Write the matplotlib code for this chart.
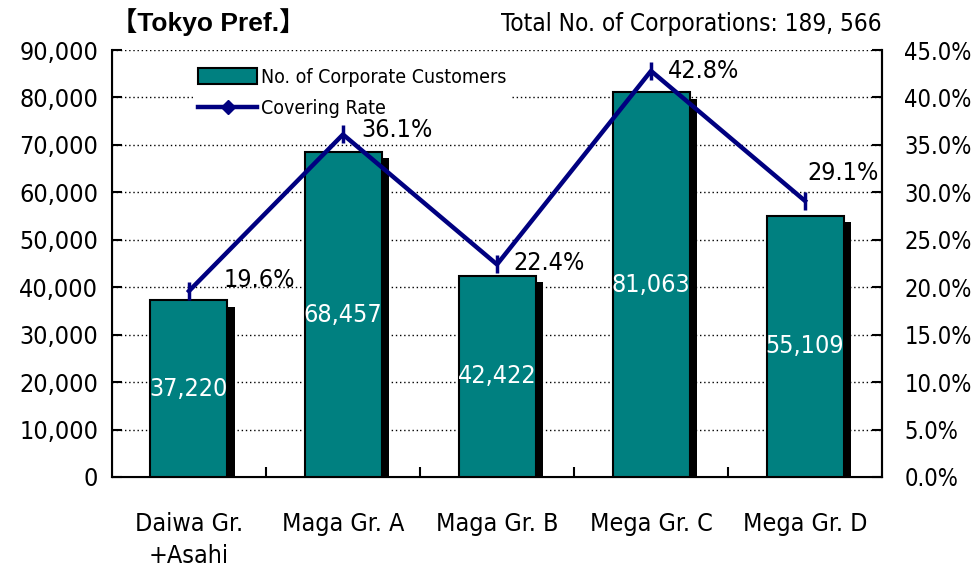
import matplotlib
matplotlib.use("Agg")
import matplotlib.pyplot as plt
from matplotlib import font_manager
from matplotlib.patches import Patch
from matplotlib.lines import Line2D
import numpy as np

# pick a narrow font if one is installed
names = {f.name for f in font_manager.fontManager.ttflist}
narrow = [f for f in font_manager.fontManager.ttflist
          if 'Narrow' in f.name or 'Condensed' in f.name or f.stretch in ('condensed', 'semi-condensed', 600, 500)]
if 'Liberation Sans Narrow' in names:
    base = 'Liberation Sans Narrow'
    stretch = 'normal'
elif narrow:
    base = narrow[0].name
    stretch = narrow[0].stretch
else:
    base = 'Liberation Sans'
    stretch = 'normal'
plt.rcParams['font.family'] = [base, 'DejaVu Sans']
plt.rcParams['font.stretch'] = stretch

# data
groups = ['Daiwa Gr.\n+Asahi', 'Maga Gr. A', 'Maga Gr. B', 'Mega Gr. C', 'Mega Gr. D']
customers = [37220, 68457, 42422, 81063, 55109]
covering_rate = [19.6, 36.1, 22.4, 42.8, 29.1]
# label offsets (points) for the rate labels
rate_offsets = [(25, 8), (13, 3), (12, 1), (12, 0), (2, 20)]

teal = '#008080'
navy = '#000080'

fig = plt.figure(figsize=(9.73, 5.70), dpi=100)
ax = fig.add_axes([0.1151, 0.1632, 0.7914, 0.749])
x = np.arange(len(groups))

# shadow bars then real bars
ax.bar(x + 0.05, np.array(customers) + 200, bottom=-1500, width=0.5,
       color='black', zorder=2)
ax.bar(x, customers, width=0.5, color=teal, edgecolor='black', linewidth=1.5, zorder=3)
for xi, v in zip(x, customers):
    ax.text(xi, v / 2, f'{v:,}', color='white', ha='center', va='center',
            fontsize=18, zorder=4)

ax.set_xlim(-0.5, len(groups) - 0.5)
ax.set_ylim(0, 90000)
ax.set_yticks(np.arange(0, 90001, 10000))
ax.set_yticklabels(['0'] + [f'{v:,}' for v in range(10000, 90001, 10000)])
ax.yaxis.grid(True, linestyle=(0, (1, 2)), color='black', linewidth=1)
ax.set_axisbelow(True)
ax.tick_params(axis='y', direction='in', length=7, width=1.5, labelsize=18, pad=10)
ax.set_xticks(x)
ax.set_xticklabels(groups, fontsize=18, linespacing=1.45)
ax.set_xticks(np.arange(0.5, len(groups) - 1, 1), minor=True)
ax.tick_params(axis='x', which='major', length=0, pad=25)
ax.tick_params(axis='x', which='minor', direction='in', length=7, width=1.5)
ax.spines['top'].set_visible(False)
for s in ['left', 'right', 'bottom']:
    ax.spines[s].set_linewidth(1.5)

ax2 = ax.twinx()
ax2.set_ylim(0, 45)
ax2.set_yticks(np.arange(0, 45.1, 5))
ax2.set_yticklabels([f'{v:.1f}%' for v in np.arange(0, 45.1, 5)])
ax2.tick_params(axis='y', direction='in', length=7, width=1.5, labelsize=17, pad=16)
ax2.spines['top'].set_visible(False)
ax2.spines['right'].set_linewidth(1.5)
ax2.plot(x, covering_rate, color=navy, linewidth=3.2, marker='|',
         markersize=13, markeredgewidth=2.5, zorder=5)
for xi, r, off in zip(x, covering_rate, rate_offsets):
    ax2.annotate(f'{r:.1f}%', (xi, r), xytext=off, textcoords='offset points',
                 ha='left', va='center', fontsize=18, zorder=7)

handles = [Patch(facecolor=teal, edgecolor='black', linewidth=1.5),
           Line2D([], [], color=navy, linewidth=3.2, marker='D', markersize=7)]
leg = ax2.legend(handles, ['No. of Corporate Customers', 'Covering Rate'],
                 loc='upper left', bbox_to_anchor=(0.092, 0.995), fontsize=14,
                 frameon=True, facecolor='white', edgecolor='none', framealpha=1,
                 fancybox=False, handlelength=3.0, handleheight=0.9,
                 handletextpad=0.2, labelspacing=0.65, borderpad=0.3)
leg.set_zorder(6)

fig.text(0.114, 0.945, '【Tokyo Pref.】', fontsize=19, fontweight='bold',
         family=['Liberation Sans', 'Noto Sans CJK JP'], stretch='normal',
         ha='left', va='baseline')
fig.text(0.9065, 0.945, 'Total No. of Corporations: 189, 566', fontsize=17.5,
         ha='right', va='baseline')

fig.savefig('out.png', dpi=100)
